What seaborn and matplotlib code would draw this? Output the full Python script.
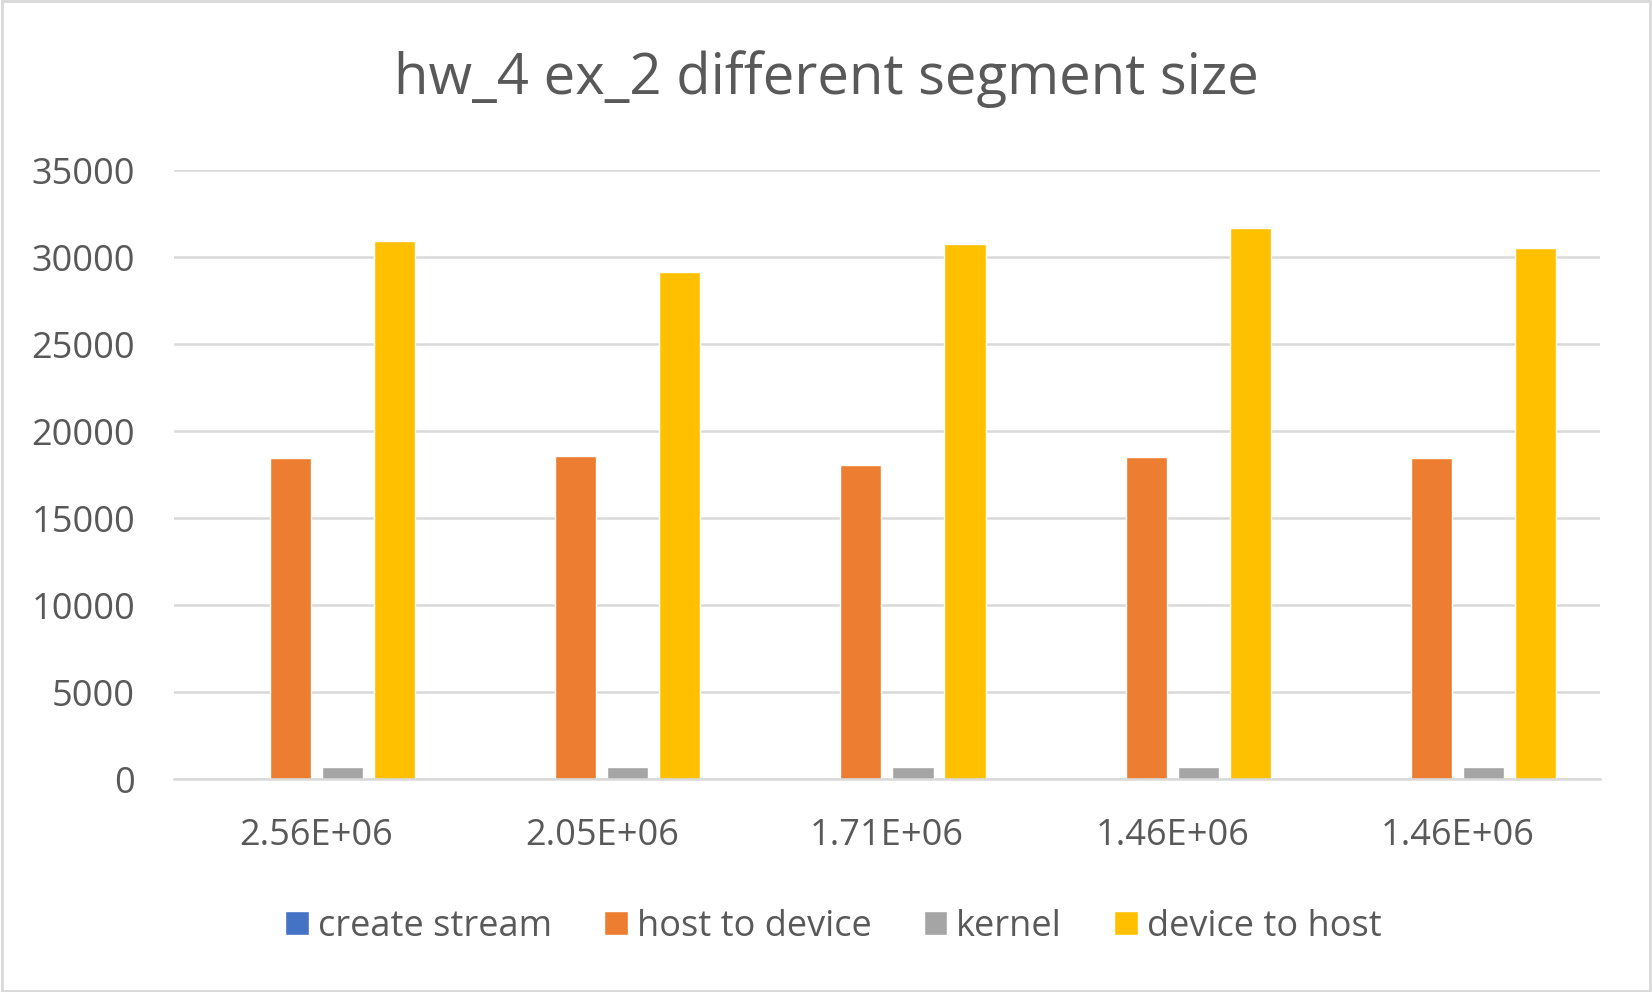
import pandas as pd
import seaborn as sns
from matplotlib import pyplot as plt
from matplotlib.patches import Rectangle

# === DATA ===
segment_labels = ['2.56E+06', '2.05E+06', '1.71E+06', '1.46E+06', '1.46E+06']
series_names = ['create stream', 'host to device', 'kernel', 'device to host']
create_stream = [15, 15, 15, 15, 15]
host_to_device = [18470, 18570, 18090, 18520, 18470]
kernel = [690, 700, 690, 690, 690]
device_to_host = [30940, 29170, 30740, 31670, 30520]
colors = ['#4472C4', '#ED7D31', '#A5A5A5', '#FFC000']

rows = []
for i in range(len(segment_labels)):
    for name, vals in zip(series_names,
                          [create_stream, host_to_device, kernel, device_to_host]):
        rows.append({'group': i, 'series': name, 'time': vals[i]})
df = pd.DataFrame(rows)

# === PLOT ===
sns.set_style('white')
plt.rcParams['font.family'] = ['Open Sans', 'DejaVu Sans']
text_color = '#595959'
grid_color = '#D9D9D9'

fig = plt.figure(figsize=(16.52, 9.92), dpi=100)
ax = fig.add_axes([0.1053, 0.2144, 0.8632, 0.6139])

sns.barplot(data=df, x='group', y='time', hue='series',
            hue_order=series_names, palette=colors,
            width=0.73, gap=0.21, saturation=1, errorbar=None, ax=ax)

ax.set_ylim(0, 35000)
ax.set_yticks(range(0, 35001, 5000))
ax.set_xlim(-0.5, len(segment_labels) - 0.5)
ax.set_xticks(range(len(segment_labels)))
ax.set_xticklabels(segment_labels)
ax.tick_params(axis='both', length=0, labelsize=26, labelcolor=text_color)
ax.tick_params(axis='y', pad=28)
ax.tick_params(axis='x', pad=28)
ax.set_xlabel('')
ax.set_ylabel('')
ax.yaxis.grid(True, color=grid_color, linewidth=1.8)
ax.set_axisbelow(True)
for side in ['top', 'right', 'left']:
    ax.spines[side].set_visible(False)
ax.spines['bottom'].set_color(grid_color)
ax.spines['bottom'].set_linewidth(1.8)

fig.text(0.5, 0.905, 'hw_4 ex_2 different segment size', fontsize=40.5,
         color=text_color, ha='center', va='baseline')

handles, labels = ax.get_legend_handles_labels()
ax.get_legend().remove()
fig.legend(handles, labels, loc='center', bbox_to_anchor=(0.5045, 0.066),
           ncol=4, frameon=False, fontsize=26, labelcolor=text_color,
           handlelength=0.65, handleheight=0.65, handletextpad=0.25,
           columnspacing=1.45)

fig.patches.append(Rectangle((0.001, 0.001), 0.998, 0.998,
                             transform=fig.transFigure, fill=False,
                             edgecolor=grid_color, linewidth=2))

fig.savefig('out.png', dpi=100)
